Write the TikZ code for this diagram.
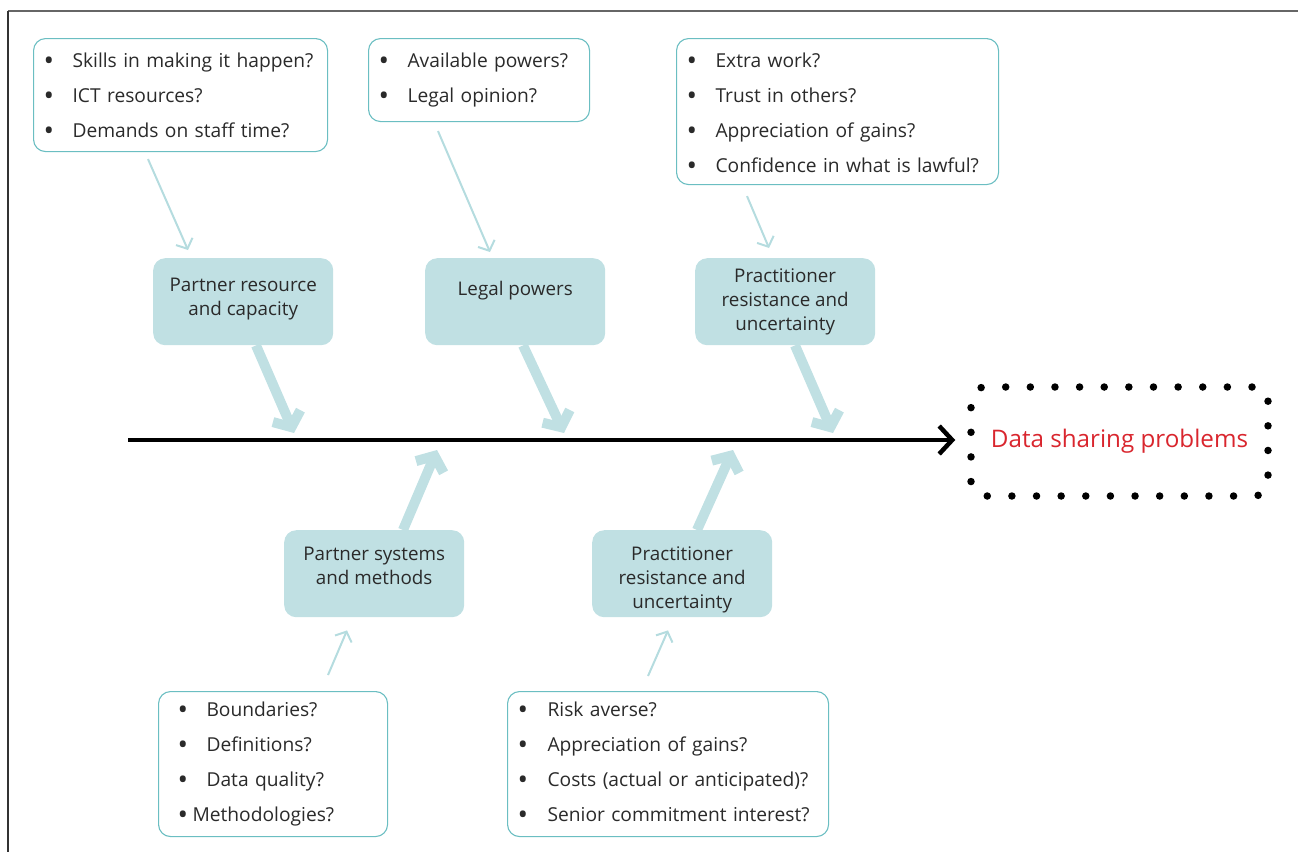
\documentclass[tikz,border=0pt]{standalone}
\usepackage{fontspec}
\setmainfont{Open Sans}
\usetikzlibrary{arrows.meta,calc}
\definecolor{catfill}{HTML}{C0E0E3}
\definecolor{thinc}{HTML}{B5DCDF}
\definecolor{outl}{HTML}{6BBEC2}
\definecolor{txt}{HTML}{2A2A2A}
\definecolor{redt}{HTML}{D9262E}
\newcommand\bl[1][29pt]{\makebox[#1][l]{\raisebox{-3pt}{\fontsize{28}{28}\selectfont •}}}
\begin{document}
\begin{tikzpicture}[x=1pt,y=-1pt,
  bulletbox/.style={draw=outl, line width=1.1pt, rounded corners=12pt, anchor=north west,
    inner xsep=10pt, inner ysep=0pt, align=left, font=\fontsize{19.2}{35}\selectfont, text=txt},
  catbox/.style={fill=catfill, rounded corners=12pt, minimum width=180pt, minimum height=87pt,
    anchor=north west, align=center, font=\fontsize{18.8}{24}\selectfont, text=txt, inner sep=0pt},
  thickarrow/.style={draw=catfill, line width=10pt, -{Straight Barb[length=12pt,width=30pt]}},
  thinarrow/.style={draw=thinc, line width=2pt, -{Straight Barb[length=8pt,width=18pt]}},
  goalbox/.style={draw=black, line width=7.5pt, dash pattern=on 0pt off 24.63pt, dash phase=22.63pt,
    line cap=round, rounded corners=14pt, minimum width=297pt, minimum height=109pt, text=redt,
    font=\fontsize{24.2}{28}\selectfont},
  frame/.style={line width=2pt}
]
\useasboundingbox (0,0) rectangle (1298,852);
% frame
\coordinate (fTL) at (8,10.5);
\coordinate (fTR) at (1298,10.5);
\coordinate (fBL) at (8,852);
\draw[frame, draw=black!60] (fTL) -- (fTR);
\draw[frame, draw=black!80] (fTL) -- (fBL);

% bullet boxes
\node[bulletbox, text width=274pt, minimum height=113pt] (bA) at (33,38)
  {\rule{0pt}{18.5pt}\bl Skills in making it happen?\\ \bl ICT resources?\\ \bl Demands on staff time?};
\node[bulletbox, text width=201pt, minimum height=83pt] (bB) at (368,38)
  {\bl Available powers?\\ \bl Legal opinion?};
\node[bulletbox, text width=302pt, minimum height=146pt] (bC) at (676,38)
  {\rule{0pt}{19.5pt}\bl Extra work?\\ \bl Trust in others?\\ \bl Appreciation of gains?\\ \bl Confidence in what is lawful?};
\node[bulletbox, inner xsep=19pt, text width=191pt, minimum height=145pt] (bD) at (158,691)
  {\bl Boundaries?\\ \bl Definitions?\\ \bl Data quality?\\ \bl[15pt]Methodologies?};
\node[bulletbox, text width=301pt, minimum height=145pt] (bE) at (507,691)
  {\bl[30pt]Risk averse?\\ \bl[30pt]Appreciation of gains?\\ \bl[30pt]Costs (actual or anticipated)?\\ \bl[30pt]Senior commitment interest?\rule[-4pt]{0pt}{4pt}};

% category boxes
\node[catbox, text depth=10pt] (p1) at (153,258) {Partner resource\\and capacity};
\node[catbox, text depth=26pt] (p2) at (425,258) {Legal powers};
\node[catbox] (p3) at (695,258) {Practitioner\\resistance and\\uncertainty};
\node[catbox, text depth=16pt] (p4) at (284,530) {Partner systems\\and methods};
\node[catbox] (p5) at (592,530) {\rule{0pt}{27pt}Practitioner\\resistance and\\uncertainty};

% goal
\node[goalbox] (goal) at (1119.5,441.5) {Data sharing problems};

% spine
\coordinate (spineL) at (128,440);
\draw[line width=4.5pt, -{Straight Barb[length=13pt,width=28pt]}, shorten >=12pt]
  (spineL) -- (spineL -| goal.west);

% thick arrows to spine
\coordinate (t1) at (294,433);
\coordinate (t2) at (564,433);
\coordinate (t3) at (833,433);
\coordinate (t4) at (437,450);
\coordinate (t5) at (733,450);
\draw[thickarrow] ($(p1.south west)+(103,0)$) -- (t1);
\draw[thickarrow] ($(p2.south west)+(98,0)$) -- (t2);
\draw[thickarrow] ($(p3.south west)+(100,0)$) -- (t3);
\draw[thickarrow] ($(p4.north west)+(119,0)$) -- (t4);
\draw[thickarrow] ($(p5.north west)+(105,0)$) -- (t5);

% thin arrows
\draw[thinarrow] ($(bA.south west)+(115,7)$) -- ($(p1.north west)+(35,-8)$);
\draw[thinarrow] ($(bB.south west)+(70,9)$) -- ($(p2.north west)+(65,-6)$);
\draw[thinarrow] ($(bC.south west)+(71,11)$) -- ($(p3.north west)+(74,-10)$);
\draw[thinarrow] ($(bD.north west)+(170,-16)$) -- ($(p4.south west)+(63,13)$);
\draw[thinarrow] ($(bE.north west)+(141,-15)$) -- ($(p5.south west)+(76,13)$);
\end{tikzpicture}
\end{document}
